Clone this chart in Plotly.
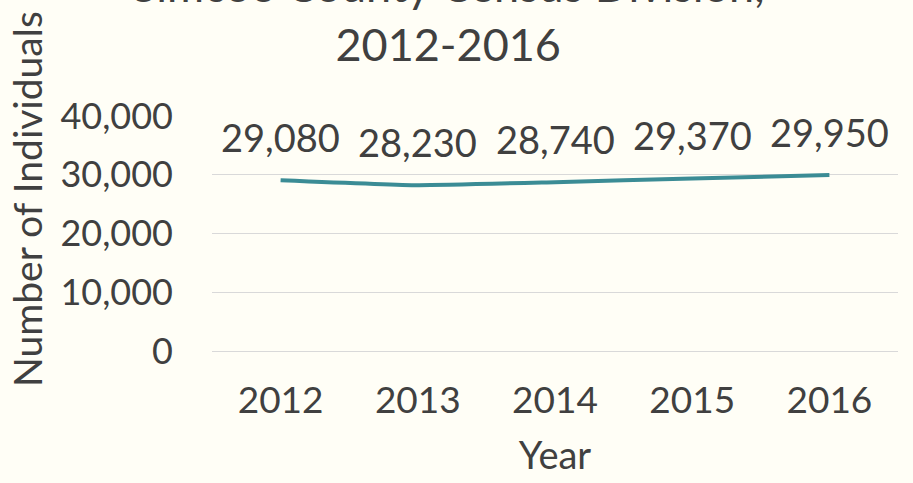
import plotly.graph_objects as go

years = ["2012", "2013", "2014", "2015", "2016"]
individuals = [29080, 28230, 28740, 29370, 29950]
value_labels = ["29,080", "28,230", "28,740", "29,370", "29,950"]
y_ticks = [0, 10000, 20000, 30000, 40000]
y_tick_labels = ["0", "10,000", "20,000", "30,000", "40,000"]

FONT = "Lato"
TXT = "#404040"
BG = "#FFFEF6"
W, H = 913, 483
L, R, T, B = 212, 15, 116, 132
PW, PH = W - L - R, H - T - B

xpos = list(range(len(years)))

fig = go.Figure()
fig.add_trace(go.Scatter(
    x=xpos, y=individuals, mode="lines",
    line=dict(color="#3B8C95", width=4, shape="spline", smoothing=0.4),
    hoverinfo="skip", showlegend=False,
))

annotations = []
for xp, v, lab in zip(xpos, individuals, value_labels):
    annotations.append(dict(x=xp, y=v, xref="x", yref="y", text=lab, showarrow=False,
                            yanchor="middle", xanchor="center", yshift=43,
                            font=dict(family=FONT, size=38, color=TXT)))

def px(xp):
    return (xp - L) / PW

def py(yp):
    return (H - B - yp) / PH

annotations.append(dict(x=px(27), y=py(199), xref="paper", yref="paper", text="Number of Individuals",
                        showarrow=False, textangle=-90, xanchor="center", yanchor="middle",
                        font=dict(family=FONT, size=39, color=TXT)))
annotations.append(dict(x=px(448), y=py(15), xref="paper", yref="paper",
                        text="Simcoe County Census Division,<br>2012-2016",
                        showarrow=False, xanchor="center", yanchor="middle", align="center",
                        font=dict(family=FONT, size=45, color=TXT)))

fig.update_layout(
    width=W, height=H,
    paper_bgcolor=BG, plot_bgcolor=BG,
    margin=dict(l=L, r=R, t=T, b=B, autoexpand=False),
    font=dict(family=FONT, color=TXT),
    showlegend=False,
    annotations=annotations,
)

fig.update_xaxes(
    range=[-0.5, len(years) - 0.5], tickvals=xpos, ticktext=years,
    showgrid=False, zeroline=False, showline=False, automargin=False,
    tickfont=dict(family=FONT, size=37, color=TXT), ticks="", ticklabelstandoff=24,
    title=dict(text="Year", font=dict(family=FONT, size=38, color=TXT), standoff=22),
)
fig.update_yaxes(
    range=[0, 40000], tickvals=y_ticks, ticktext=y_tick_labels, automargin=False,
    showgrid=True, gridcolor="#D9D9D9", gridwidth=1,
    zeroline=True, zerolinecolor="#D9D9D9", zerolinewidth=1, showline=False,
    tickfont=dict(family=FONT, size=36, color=TXT), ticks="", ticklabelstandoff=38,
)

fig.write_html(
    "out.html",
    config={"displayModeBar": False},
    post_script="document.body.style.margin='0';document.body.style.background='#FFFEF6';document.body.style.overflow='hidden';",
)
